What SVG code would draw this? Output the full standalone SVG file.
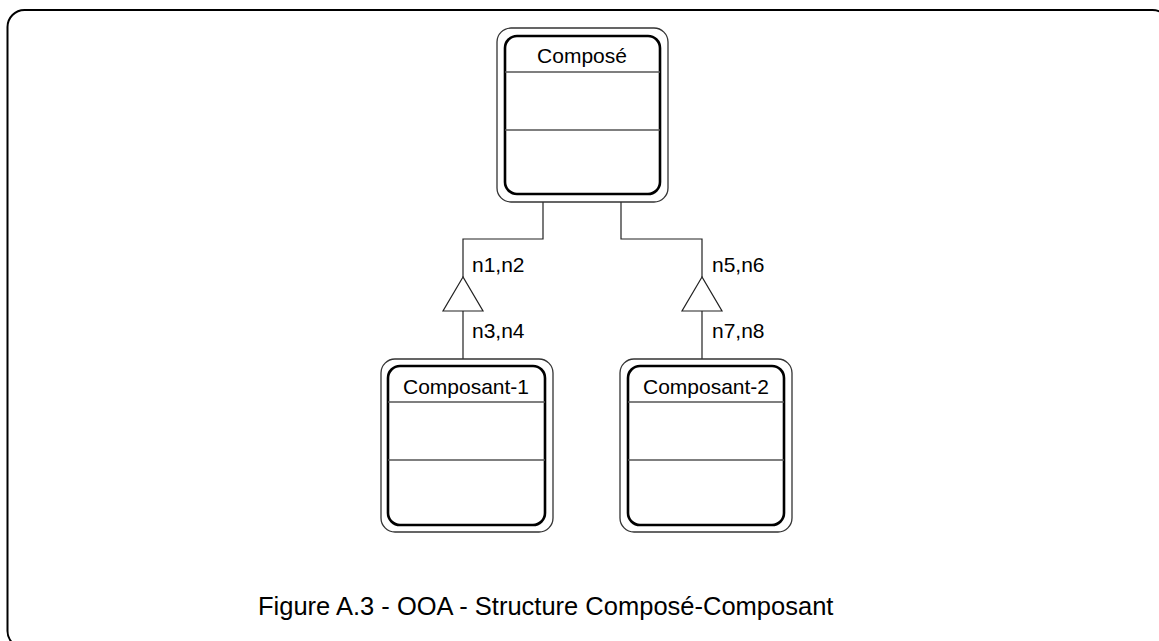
<svg xmlns="http://www.w3.org/2000/svg" width="1159" height="641" viewBox="0 0 1159 641">
<style>
.outer{fill:#fff;stroke:#333;stroke-width:1.3}
.inner{fill:#fff;stroke:#000;stroke-width:2.6}
.div{stroke:#555;stroke-width:1.4}
.t{font-family:"Liberation Sans",Arial,sans-serif;font-size:21px;fill:#000}
.c{stroke:#222;stroke-width:1.2;fill:none}
.tri{stroke:#222;stroke-width:1.2;fill:#fff}
</style>
<rect x="0" y="0" width="1159" height="641" fill="#fff"/>
<rect x="7.5" y="10" width="1162" height="638" rx="17" fill="none" stroke="#000" stroke-width="2"/>
<g id="connectors">
<path class="c" d="M543 202 V239 H463 V277 M463 311 V359"/>
<polygon class="tri" points="463,277 443,311 483,311"/>
<path class="c" d="M621 202 V239 H702 V277 M702 311 V359"/>
<polygon class="tri" points="702,277 682,311 722,311"/>
<text class="t" x="472" y="272">n1,n2</text>
<text class="t" x="472" y="338">n3,n4</text>
<text class="t" x="712" y="272">n5,n6</text>
<text class="t" x="712" y="338">n7,n8</text>
</g>
<g id="compose">
<rect class="outer" x="497" y="28" width="171" height="174" rx="14"/>
<rect class="inner" x="505" y="36" width="155" height="158" rx="12"/>
<line class="div" x1="505" y1="72" x2="660" y2="72"/>
<line class="div" x1="505" y1="130" x2="660" y2="130"/>
<text class="t" x="582" y="63" text-anchor="middle">Composé</text>
</g>
<g id="composant1">
<rect class="outer" x="381" y="359" width="172" height="173" rx="14"/>
<rect class="inner" x="388" y="366" width="157" height="159" rx="12"/>
<line class="div" x1="388" y1="402" x2="545" y2="402"/>
<line class="div" x1="388" y1="460" x2="545" y2="460"/>
<text class="t" x="466" y="394" text-anchor="middle">Composant-1</text>
</g>
<g id="composant2">
<rect class="outer" x="620" y="359" width="172" height="173" rx="14"/>
<rect class="inner" x="628" y="366" width="156" height="159" rx="12"/>
<line class="div" x1="628" y1="402" x2="784" y2="402"/>
<line class="div" x1="628" y1="460" x2="784" y2="460"/>
<text class="t" x="706" y="394" text-anchor="middle">Composant-2</text>
</g>
<text id="caption" x="258" y="615" font-family="'Liberation Sans',Arial,sans-serif" font-size="25.5" fill="#000">Figure A.3 - OOA - Structure Composé-Composant</text>
</svg>
